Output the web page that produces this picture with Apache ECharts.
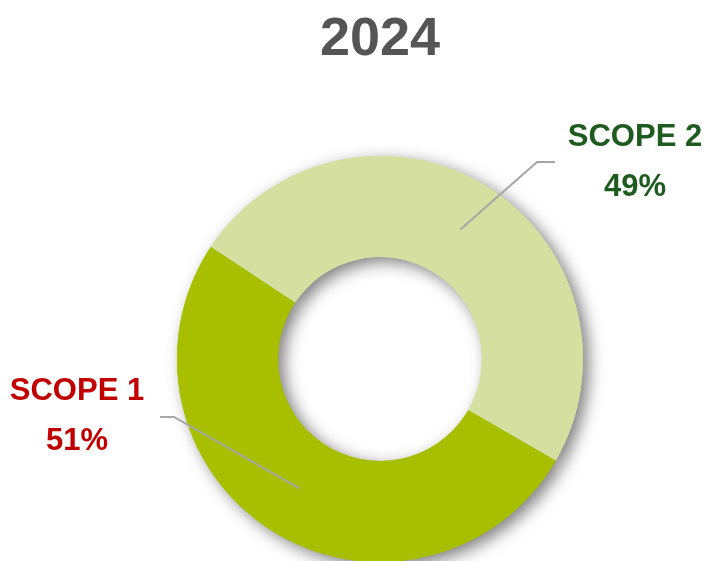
<!DOCTYPE html>
<html>
<head>
<meta charset="utf-8">
<style>
  html, body { margin: 0; padding: 0; background: #fff; }
  #chart { width: 707px; height: 561px; }
</style>
<script src="https://cdn.jsdelivr.net/npm/echarts@6/dist/echarts.min.js"></script>
</head>
<body>
<div id="chart"></div>
<script>
/* ===== data ===== */
const categories = ['SCOPE 1', 'SCOPE 2'];
const values = [51, 49];
const sliceColors = ['#A8BF00', '#D5E0A0'];
const labelColors = ['#C00000', '#1E5B1E'];
const titleText = '2024';

/* ===== layout ===== */
const cx = 380, cy = 359;
const rIn = 102, rOut = 203;
const startAngle = 330;
// where each label sits and where its leader line bends
const labelPos = [
  { x: 77, y: 416, bend: [174, 417], end: [160, 417] },
  { x: 635, y: 162, bend: [537, 162], end: [555, 162] }
];

const total = values.reduce((a, b) => a + b, 0);
const midAngles = [];
let acc = startAngle;
values.forEach(v => {
  const span = v / total * 360;
  midAngles.push(acc - span / 2);
  acc -= span;
});

const chart = echarts.init(document.getElementById('chart'));
const font = "'Liberation Sans', Arial, sans-serif";

const baseData = categories.map((name, i) => ({
  name, value: values[i], itemStyle: { color: sliceColors[i] }
}));

chart.setOption({
  backgroundColor: '#fff',
  title: {
    text: titleText,
    left: 375,
    top: 8,
    textAlign: 'center',
    textStyle: { fontFamily: font, fontSize: 54, fontWeight: 'bold', color: '#555555' }
  },
  series: [
    {
      // soft shadow under the ring
      type: 'pie',
      silent: true,
      z: 1,
      center: [cx, cy],
      radius: [rIn, rOut],
      startAngle: startAngle,
      label: { show: false },
      labelLine: { show: false },
      itemStyle: {
        shadowBlur: 16,
        shadowOffsetX: 6,
        shadowOffsetY: 5,
        shadowColor: 'rgba(0,0,0,0.5)'
      },
      data: baseData
    },
    {
      type: 'pie',
      silent: true,
      z: 2,
      center: [cx, cy],
      radius: [rIn, rOut],
      startAngle: startAngle,
      label: { show: false },
      labelLine: { show: false },
      data: baseData
    },
    {
      // labels and leader lines drawn over the ring
      type: 'pie',
      silent: true,
      z: 3,
      center: [cx, cy],
      radius: [rIn, rOut],
      startAngle: startAngle,
      itemStyle: { color: 'rgba(0,0,0,0)' },
      label: {
        show: true,
        position: 'outside',
        fontFamily: font,
        fontWeight: 'bold',
        fontSize: 31,
        lineHeight: 50,
        formatter: p => p.name + '\n' + p.value + '%'
      },
      labelLine: {
        show: true,
        lineStyle: { color: '#A6A6A6', width: 2 }
      },
      labelLayout: params => {
        const i = params.dataIndex;
        const a = midAngles[i] * Math.PI / 180;
        const r = (rIn + rOut) / 2;
        const p0 = [cx + r * Math.cos(a), cy - r * Math.sin(a)];
        const lp = labelPos[i];
        return {
          x: lp.x,
          y: lp.y,
          align: 'center',
          verticalAlign: 'middle',
          labelLinePoints: [p0, lp.bend, lp.end]
        };
      },
      data: categories.map((name, i) => ({
        name,
        value: values[i],
        label: { color: labelColors[i] }
      }))
    }
  ]
});
</script>
</body>
</html>
